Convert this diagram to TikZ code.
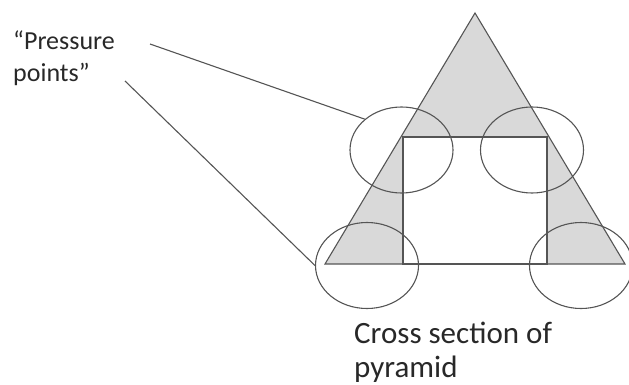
\documentclass[tikz,border=0pt]{standalone}
\usepackage{fontspec}
\setmainfont{Carlito}
\usepackage{xcolor}
\definecolor{lineGray}{RGB}{85, 85, 85}
\definecolor{fillGray}{RGB}{217, 217, 217}
\definecolor{textGray}{RGB}{40, 40, 40}
\usepackage{tikz}
\usetikzlibrary{shapes.geometric, positioning}

\begin{document}
\begin{tikzpicture}[x=1pt, y=-1pt,
    outline/.style={draw=lineGray, line width=1.1pt},
    spot/.style={ellipse, outline, inner sep=0pt, minimum width=103pt, minimum height=86pt},
    note/.style={text=textGray, inner sep=0pt, anchor=base west, align=left}]
    \useasboundingbox (0, 0) rectangle (629, 385);
    \coordinate (apex) at (475, 13);
    \coordinate (baseL) at (325, 264);
    \coordinate (baseR) at (625, 264);
    \coordinate (sqTL) at (403, 137);
    \coordinate (sqBR) at (547, 264);
    \filldraw[outline, fill=fillGray] (apex) -- (baseR) -- (baseL) -- cycle;
    \filldraw[outline, fill=white] (sqTL) rectangle (sqBR);

    % pressure points
    \node[spot] (tl) at (401.5, 150) {};
    \node[spot] (tr) at (532, 150) {};
    \node[spot] (bl) at (367, 265.5) {};
    \node[spot] (br) at (581, 265.5) {};

    % base west sits on the last line
    \node[note, font=\fontsize{26}{32}\selectfont] (pp) at (13, 82) {“Pressure\\points”};
    \node[note, font=\fontsize{31}{34}\selectfont] (cs) at (354, 377) {Cross section of\\pyramid};
    \coordinate (ppA) at (150, 44);
    \coordinate (ppB) at (125, 81);
    \draw[outline] (ppA) -- (tl.140);
    \draw[outline] (ppB) -- (bl.west);
\end{tikzpicture}
\end{document}
